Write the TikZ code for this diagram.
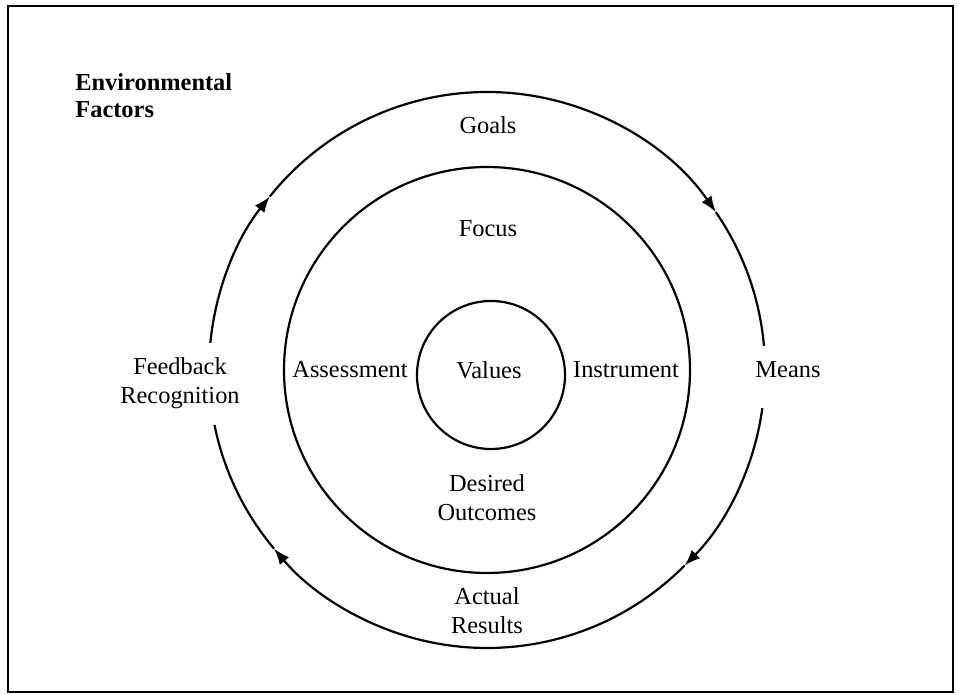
\documentclass[tikz,border=0pt]{standalone}
\usepackage{fontspec}
\setmainfont{Liberation Serif}
\usetikzlibrary{arrows.meta}

\begin{document}
\begin{tikzpicture}[
  x=0.5pt, y=0.5pt,
  every node/.style={font=\fontsize{12.2}{14.5}\selectfont, inner sep=0pt},
  lbl/.style={align=center},
  envlbl/.style={align=left, anchor=west, font=\fontsize{12.2}{13.5}\selectfont\bfseries},
  ring/.style={draw, line width=1.1pt},
  cycle/.style={line width=1.1pt},
  cyclearr/.style={cycle, -{Latex[length=8pt,width=6pt]}},
]
\useasboundingbox (0,0) rectangle (959,695);
% ---- frame ----
\draw[line width=1.3pt] (8,3) rectangle (953,689);
\coordinate (c)  at (487,325);   % centre of the two outer circles
\coordinate (cv) at (491,320);   % centre of the small circle
% ---- inner rings ----
\draw[ring] (c)  circle[radius=203];
\draw[ring] (cv) circle[radius=74];
% ---- outer cycle, clockwise; gaps left and right for the labels ----
\draw[cyclearr] ([shift={(174.4:278)}]c) arc[start angle=174.4, end angle=141.4, radius=278];
\draw[cyclearr] ([shift={(141.4:278)}]c) arc[start angle=141.4, end angle=34.6,  radius=278];
\draw[cycle]    ([shift={(34.6:278)}]c)  arc[start angle=34.6,  end angle=5,     radius=278];
\draw[cyclearr] ([shift={(-7.9:278)}]c)  arc[start angle=-7.9,  end angle=-44.7, radius=278];
\draw[cyclearr] ([shift={(-44.7:278)}]c) arc[start angle=-44.7, end angle=-140,  radius=278];
\draw[cycle]    ([shift={(-140:278)}]c)  arc[start angle=-140,  end angle=-168.6, radius=278];
% ---- labels ----
\node[envlbl] (env) at (75,599.5) {Environmental\\Factors};
\node[lbl] (goals)  at (488,570) {Goals};
\node[lbl] (means)  at (788,325) {Means};
\node[lbl] (actual) at (487,84)  {Actual\\Results};
\node[lbl] (feedb)  at (180,311.5) {Feedback\\Recognition};
\node[lbl] (focus)  at (488,466) {Focus};
\node[lbl] (instr)  at (626,325) {Instrument};
\node[lbl] (desout) at (487,197) {Desired\\Outcomes};
\node[lbl] (assess) at (350,325) {Assessment};
\node[lbl] (values) at (489,325) {Values};
\end{tikzpicture}
\end{document}
